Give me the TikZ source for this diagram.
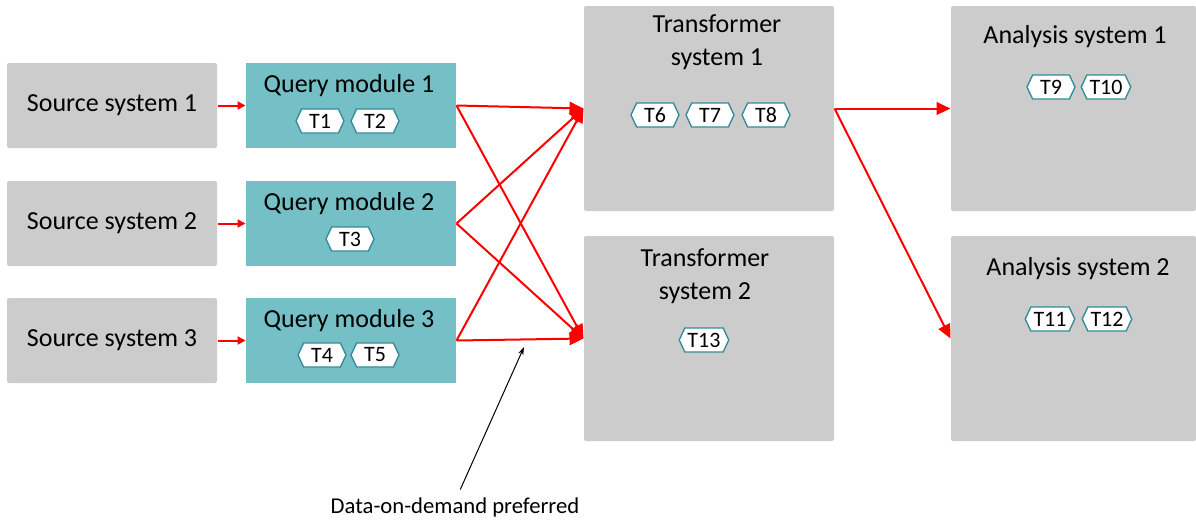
\documentclass[tikz,border=0pt]{standalone}
\usepackage{fontspec}
\setmainfont{Carlito}
\usetikzlibrary{arrows.meta,shapes.symbols}
\definecolor{sysgray}{RGB}{204,204,204}
\definecolor{qteal}{RGB}{116,192,198}
\definecolor{tokline}{RGB}{52,138,152}

\begin{document}
\begin{tikzpicture}[x=.75pt,y=-.75pt,line width=.75pt,
  sysbox/.style={fill=sysgray,rounded corners=1.5pt,inner sep=0pt,font=\fontsize{19.5}{24.5}\selectfont},
  qbox/.style={fill=qteal,inner sep=0pt},
  title/.style={inner sep=0pt,align=center,font=\fontsize{19.5}{24.5}\selectfont},
  token/.style={signal,signal to=east and west,signal pointer angle=130,draw=tokline,line width=1pt,fill=white,
    minimum width=36pt,minimum height=18pt,inner xsep=2pt,inner ysep=0pt,font=\fontsize{16.5}{18}\selectfont},
  feed/.style={draw=red,line width=1.5pt,-{Triangle[length=6pt,width=6pt]}},
  flow/.style={draw=red,line width=1.5pt,-{Triangle[length=10.5pt,width=9.5pt]}}]
\path[use as bounding box] (0,0) rectangle (1196,522);
% source systems
\node[sysbox,minimum width=157.5pt,minimum height=63.75pt] (src1) at (112,105.5) {Source system 1};
\node[sysbox,minimum width=157.5pt,minimum height=63.75pt] (src2) at (112,223.5) {Source system 2};
\node[sysbox,minimum width=157.5pt,minimum height=63.75pt] (src3) at (112,340.5) {Source system 3};
% query modules
\node[qbox,minimum width=157.5pt,minimum height=63.75pt] (qm1) at (351,105.5) {};
\node[title] (qm1title) at (349,86) {Query module 1};
\node[token] (t1) at (320,121) {T1};
\node[token] (t2) at (375,121) {T2};
\node[qbox,minimum width=157.5pt,minimum height=63.75pt] (qm2) at (351,223.5) {};
\node[title] (qm2title) at (349,204) {Query module 2};
\node[token] (t3) at (350,239) {T3};
\node[qbox,minimum width=157.5pt,minimum height=63.75pt] (qm3) at (351,340.5) {};
\node[title] (qm3title) at (349,321) {Query module 3};
\node[token] (t4) at (322,355) {T4};
\node[token] (t5) at (375,355) {T5};
% transformer systems
\node[sysbox,minimum width=187.5pt,minimum height=153.75pt] (ts1) at (709,108.5) {};
\node[title] (ts1title) at (717,42) {Transformer\\system 1};
\node[token] (t6) at (655,115) {T6};
\node[token] (t7) at (710,115) {T7};
\node[token] (t8) at (766,115) {T8};
\node[sysbox,minimum width=187.5pt,minimum height=153.75pt] (ts2) at (709,338.5) {};
\node[title] (ts2title) at (705,276) {Transformer\\system 2};
\node[token] (t13) at (704,340) {T13};
% analysis systems
\node[sysbox,minimum width=183.75pt,minimum height=153.75pt] (as1) at (1073.5,108.5) {};
\node[title] (as1title) at (1075,37) {Analysis system 1};
\node[token] (t9) at (1051,87) {T9};
\node[token] (t10) at (1106,87) {T10};
\node[sysbox,minimum width=183.75pt,minimum height=153.75pt] (as2) at (1073.5,338.5) {};
\node[title] (as2title) at (1078,269) {Analysis system 2};
\node[token] (t11) at (1050,319) {T11};
\node[token] (t12) at (1107,319) {T12};
% connectors
\draw[feed] (src1) -- (qm1);
\draw[feed] (src2) -- (qm2);
\draw[feed] (src3) -- (qm3);
\draw[flow] (qm1.east) -- (ts1.west);
\draw[flow] (qm1.east) -- (ts2.west);
\draw[flow] (qm2.east) -- (ts1.west);
\draw[flow] (qm2.east) -- (ts2.west);
\draw[flow] (qm3.east) -- (ts1.west);
\draw[flow] (qm3.east) -- (ts2.west);
\draw[flow] (ts1.east) -- (as1.west);
\draw[flow] (ts1.east) -- (as2.west);
% note
\node[inner sep=0pt,font=\fontsize{17}{20}\selectfont] (note) at (455,507) {Data-on-demand preferred};
\coordinate (dod) at (524,347);
\draw[-{Stealth[length=6pt,width=4pt]},shorten <=6pt] (note.north) ++(2,0) -- (dod);
\end{tikzpicture}
\end{document}
